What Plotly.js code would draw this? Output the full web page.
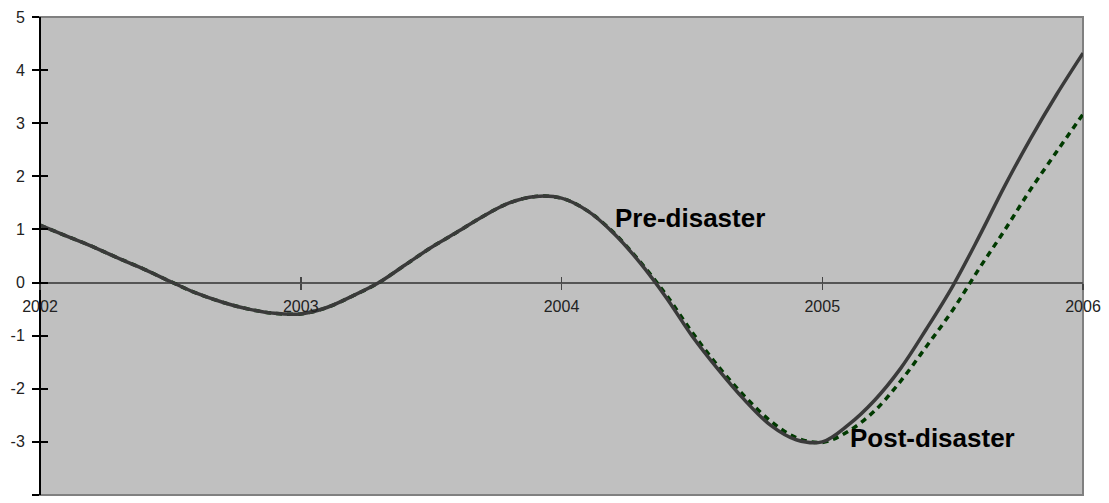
<!DOCTYPE html>
<html>
<head>
<meta charset="utf-8">
<script src="https://cdn.plot.ly/plotly-3.0.1.min.js"></script>
<style>
html,body{margin:0;padding:0;background:#fff;}
#chart{width:1109px;height:503px;}
</style>
</head>
<body>
<div id="chart"></div>
<script>
// Years (decimal) and values
var years = [2002.0, 2002.1, 2002.2, 2002.3, 2002.4, 2002.5, 2002.6, 2002.7, 2002.8, 2002.9,
             2003.0, 2003.1, 2003.2, 2003.3, 2003.4, 2003.5, 2003.6, 2003.7, 2003.8, 2003.9,
             2004.0, 2004.1, 2004.2, 2004.3, 2004.4, 2004.5, 2004.6, 2004.7, 2004.8, 2004.9,
             2005.0, 2005.1, 2005.2, 2005.3, 2005.4, 2005.5, 2005.6, 2005.7, 2005.8, 2005.9, 2006.0];
var preValues = [1.08, 0.88, 0.68, 0.46, 0.25, 0.02, -0.20, -0.37, -0.50, -0.58,
                 -0.59, -0.47, -0.25, 0.00, 0.33, 0.66, 0.95, 1.25, 1.50, 1.62,
                 1.59, 1.35, 0.93, 0.38, -0.27, -1.00, -1.63, -2.20, -2.68, -2.96,
                 -3.00, -2.68, -2.22, -1.62, -0.87, -0.07, 0.85, 1.82, 2.72, 3.55, 4.32];
var postValues = [1.08, 0.88, 0.68, 0.46, 0.25, 0.02, -0.20, -0.37, -0.50, -0.58,
                  -0.59, -0.47, -0.25, 0.00, 0.33, 0.66, 0.95, 1.25, 1.50, 1.62,
                  1.59, 1.35, 0.94, 0.40, -0.22, -0.93, -1.57, -2.13, -2.60, -2.92,
                  -3.01, -2.80, -2.42, -1.86, -1.20, -0.52, 0.25, 0.99, 1.76, 2.47, 3.17];

var xTicks = [2002, 2003, 2004, 2005, 2006];
var xTickLabels = ['2002', '2003', '2004', '2005', '2006'];
var yTicks = [-4, -3, -2, -1, 0, 1, 2, 3, 4, 5];
var yTickLabels = ['-4', '-3', '-2', '-1', '0', '1', '2', '3', '4', '5'];

var labelPre = {text: 'Pre-disaster', x: 2004.196, y: 1.215};
var labelPost = {text: 'Post-disaster', x: 2005.098, y: -2.93};

var tickFont = {family: 'Arial, "Liberation Sans", sans-serif', size: 16, color: '#222'};
var labelFont = {family: 'Arial, "Liberation Sans", sans-serif', size: 26, color: '#000'};

var traces = [
  {
    x: years, y: postValues, type: 'scatter', mode: 'lines',
    line: {color: '#003a00', width: 3.5, dash: '6px,5px', shape: 'spline', smoothing: 1},
    hoverinfo: 'skip', showlegend: false
  },
  {
    x: years, y: preValues, type: 'scatter', mode: 'lines',
    line: {color: '#3a3a3a', width: 3.5, shape: 'spline', smoothing: 1},
    hoverinfo: 'skip', showlegend: false
  },
  {
    x: years, y: preValues, xaxis: 'x2', yaxis: 'y2', type: 'scatter', mode: 'lines',
    line: {color: 'rgba(0,0,0,0)', width: 0}, hoverinfo: 'skip', showlegend: false
  }
];

var layout = {
  width: 1109, height: 503,
  margin: {l: 40, r: 26, t: 17, b: 8, pad: 0},
  paper_bgcolor: '#ffffff',
  plot_bgcolor: '#c0c0c0',
  showlegend: false,
  xaxis: {
    range: [2002, 2006], anchor: 'free', position: 4/9,
    tickvals: xTicks, ticktext: xTickLabels,
    ticks: 'outside', ticklen: 6, tickwidth: 1.5, tickcolor: '#444',
    ticklabelstandoff: 3,
    showline: false, showgrid: false, zeroline: false,
    tickfont: tickFont, fixedrange: true
  },
  xaxis2: {
    range: [2002, 2006], anchor: 'free', position: 4/9, overlaying: 'x',
    tickvals: xTicks, ticks: 'inside', ticklen: 6, tickwidth: 1.5, tickcolor: '#444',
    showticklabels: false, showline: false, showgrid: false, zeroline: false
  },
  yaxis: {
    range: [-4, 5], anchor: 'free', position: 0,
    tickvals: yTicks, ticktext: yTickLabels,
    ticks: 'outside', ticklen: 7, tickwidth: 2, tickcolor: '#000',
    ticklabelstandoff: 4,
    showline: true, linecolor: '#000', linewidth: 2,
    showgrid: false, zeroline: true, zerolinecolor: '#555', zerolinewidth: 2,
    tickfont: tickFont, fixedrange: true
  },
  yaxis2: {
    range: [-4, 5], anchor: 'free', position: 0, overlaying: 'y',
    tickvals: yTicks, ticks: 'inside', ticklen: 7, tickwidth: 2, tickcolor: '#000',
    showticklabels: false, showline: false, showgrid: false, zeroline: false
  },
  shapes: [
    {type: 'rect', xref: 'paper', yref: 'paper', x0: 0, x1: 1, y0: 0, y1: 1,
     line: {color: '#808080', width: 2}, layer: 'below'}
  ],
  annotations: [
    {x: labelPre.x, y: labelPre.y, xref: 'x', yref: 'y', text: '<b>' + labelPre.text + '</b>',
     showarrow: false, xanchor: 'left', yanchor: 'middle', font: labelFont},
    {x: labelPost.x, y: labelPost.y, xref: 'x', yref: 'y', text: '<b>' + labelPost.text + '</b>',
     showarrow: false, xanchor: 'left', yanchor: 'middle', font: labelFont}
  ]
};

Plotly.newPlot('chart', traces, layout, {staticPlot: true, displayModeBar: false});
</script>
</body>
</html>
